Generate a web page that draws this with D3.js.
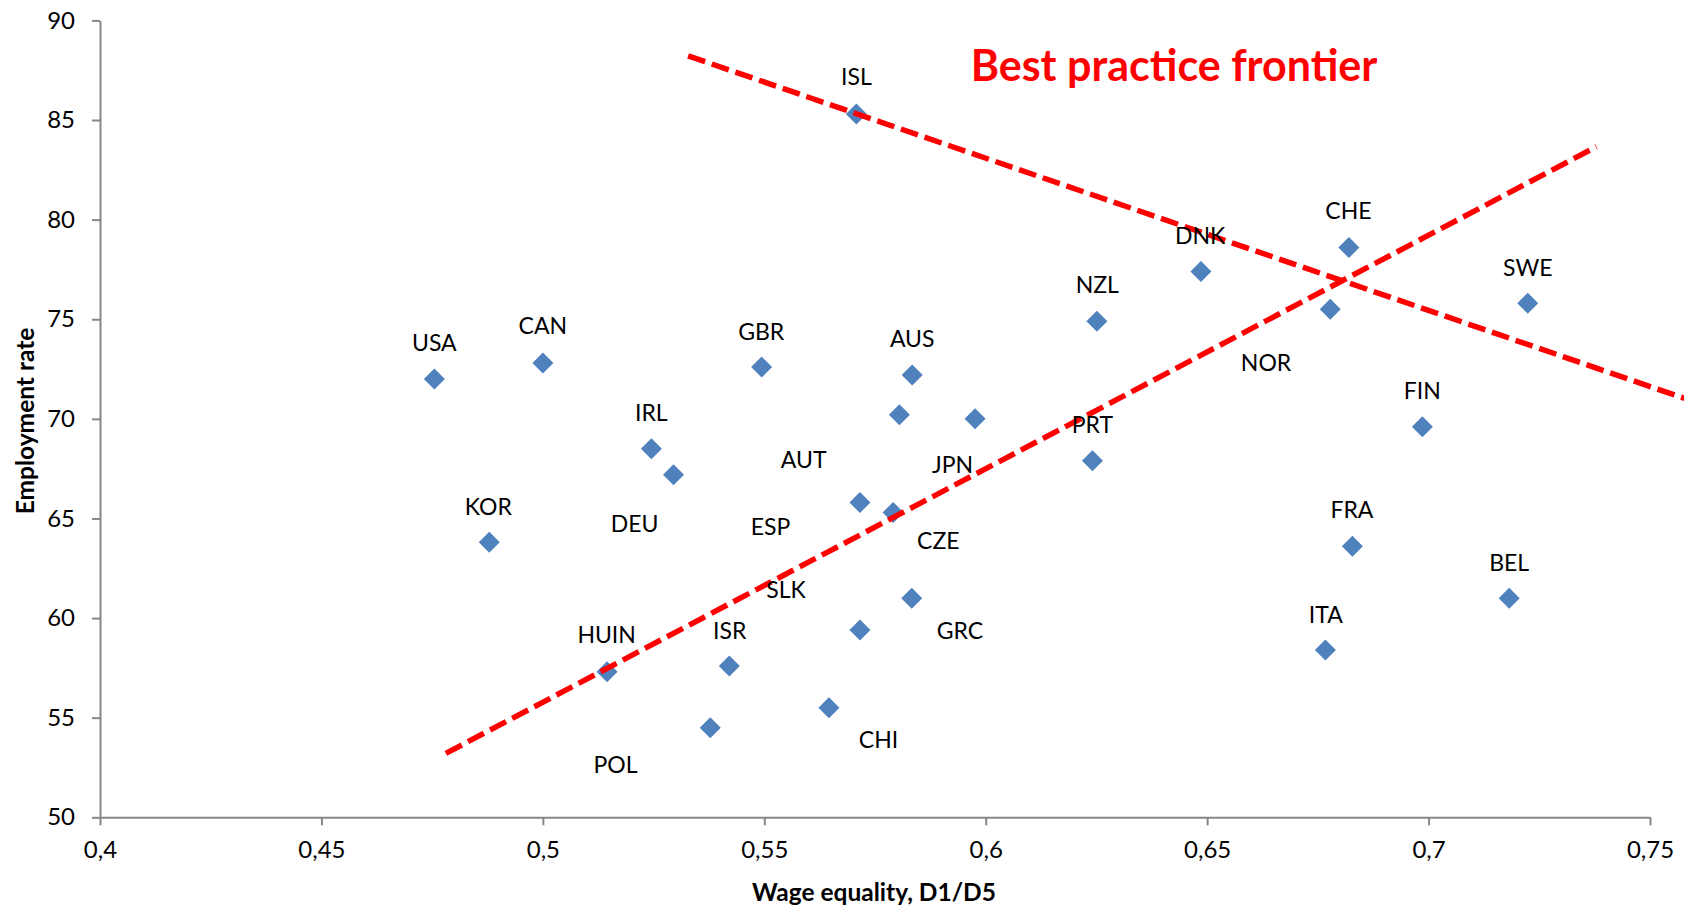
<!DOCTYPE html>
<html>
<head>
<meta charset="utf-8">
<script src="https://cdn.jsdelivr.net/npm/d3@7"></script>
<style>
  html, body { margin: 0; padding: 0; background: #fff; }
  svg { display: block; }
  text { font-family: Lato, "Open Sans", "Noto Sans", sans-serif; }
</style>
</head>
<body>
<svg id="chart" width="1684" height="909"></svg>
<script>
// Countries and their wage equality (D1/D5) vs employment rate
const countries = ["USA","CAN","KOR","IRL","DEU","GBR","AUS","AUT","JPN","ISL","ESP","CZE","GRC","SLK",
                   "HUIN","ISR","POL","CHI","NZL","PRT","DNK","CHE","NOR","SWE","FIN","FRA","ITA","BEL"];
const wageEquality = [0.4755,0.5000,0.4879,0.5245,0.5295,0.5494,0.5834,0.5805,0.5976,0.5708,0.5716,0.5791,0.5833,0.5716,
                      0.5145,0.5421,0.5378,0.5646,0.6251,0.6241,0.6486,0.6820,0.6778,0.7224,0.6986,0.6828,0.6767,0.7182];
const employmentRate = [72.0,72.8,63.8,68.5,67.2,72.6,72.2,70.2,70.0,85.3,65.8,65.3,61.0,59.4,
                        57.3,57.6,54.5,55.5,74.9,67.9,77.4,78.6,75.5,75.8,69.6,63.6,58.4,61.0];

// Where each country's label sits, in the same data units as the axes
const labelX = [0.4755,0.5000,0.4877,0.5245,0.5207,0.5493,0.5834,0.5589,0.5925,0.5708,0.5514,0.5893,0.5942,0.5549,
                0.5144,0.5422,0.5164,0.5758,0.6252,0.6241,0.6484,0.6819,0.6633,0.7224,0.6986,0.6827,0.6768,0.7182];
const labelY = [73.83,74.65,65.61,70.31,64.72,74.38,74.03,67.94,67.72,87.16,64.57,63.90,59.39,61.40,
                59.14,59.35,52.63,53.90,76.72,69.69,79.17,80.44,72.84,77.57,71.42,65.43,60.19,62.80];

// Two hand-drawn frontier lines (start and end points in data units)
const frontierLines = [
  [[0.5328, 88.22], [0.7600, 70.86]],
  [[0.4781, 53.21], [0.7379, 83.66]]
];

const xTicks = [0.4,0.45,0.5,0.55,0.6,0.65,0.7,0.75];
const yTicks = [50,55,60,65,70,75,80,85,90];

const title = "Best practice frontier";
const xTitle = "Wage equality, D1/D5";
const yTitle = "Employment rate";

const svg = d3.select("#chart");
const margin = {left: 100, right: 34, top: 20.4, bottom: 91.7};
const W = 1684, H = 909;

const x = d3.scaleLinear().domain([0.4, 0.75]).range([margin.left, W - margin.right]);
const y = d3.scaleLinear().domain([50, 90]).range([H - margin.bottom, margin.top]);

const axisColor = "#878787";
const fmt = d => String(d).replace(".", ",");

// X axis
const gx = svg.append("g")
  .attr("transform", `translate(0,${y(50)})`)
  .call(d3.axisBottom(x).tickValues(xTicks).tickFormat(fmt).tickSize(8).tickSizeOuter(0).tickPadding(16));
gx.select(".domain").attr("stroke", axisColor).attr("stroke-width", 2);
gx.selectAll(".tick line").attr("stroke", axisColor).attr("stroke-width", 2);
gx.selectAll(".tick text").attr("font-size", 24).attr("fill", "#000")
  .attr("font-family", "Lato, 'Open Sans', sans-serif");

// Y axis
const gy = svg.append("g")
  .attr("transform", `translate(${x(0.4)},0)`)
  .call(d3.axisLeft(y).tickValues(yTicks).tickFormat(d3.format("d")).tickSize(8).tickSizeOuter(0).tickPadding(17));
gy.select(".domain").attr("stroke", axisColor).attr("stroke-width", 2);
gy.selectAll(".tick line").attr("stroke", axisColor).attr("stroke-width", 2);
gy.selectAll(".tick text").attr("font-size", 24).attr("fill", "#000")
  .attr("font-family", "Lato, 'Open Sans', sans-serif");

// Axis titles
svg.append("text")
  .attr("x", 874).attr("y", 901)
  .attr("text-anchor", "middle")
  .attr("font-size", 24.5).attr("font-weight", "bold").attr("fill", "#000")
  .text(xTitle);

svg.append("text")
  .attr("transform", "translate(34,421) rotate(-90)")
  .attr("text-anchor", "middle")
  .attr("font-size", 24.5).attr("font-weight", "bold").attr("fill", "#000")
  .text(yTitle);

const pts = countries.map((c, i) => ({c, wx: wageEquality[i], er: employmentRate[i], lx: labelX[i], ly: labelY[i]}));

// Diamond markers
svg.append("g").selectAll("path")
  .data(pts).join("path")
  .attr("transform", d => `translate(${x(d.wx)},${y(d.er)})`)
  .attr("d", "M0,-10.5L10.5,0L0,10.5L-10.5,0Z")
  .attr("fill", "#4F81BD");

// Frontier lines
const line = d3.line().x(d => x(d[0])).y(d => y(d[1]));
svg.append("g").selectAll("path")
  .data(frontierLines).join("path")
  .attr("d", line)
  .attr("fill", "none")
  .attr("stroke", "#FF0000")
  .attr("stroke-width", 5.5)
  .attr("stroke-dasharray", "18 7");

// Country labels
svg.append("g").selectAll("text")
  .data(pts).join("text")
  .attr("x", d => x(d.lx)).attr("y", d => y(d.ly))
  .attr("dy", "0.36em")
  .attr("text-anchor", "middle")
  .attr("font-size", 23).attr("fill", "#000")
  .text(d => d.c);

// Title
svg.append("text")
  .attr("x", 1174).attr("y", 80.7)
  .attr("text-anchor", "middle")
  .attr("font-size", 43).attr("font-weight", "bold").attr("fill", "#FF0000")
  .text(title);
</script>
</body>
</html>
